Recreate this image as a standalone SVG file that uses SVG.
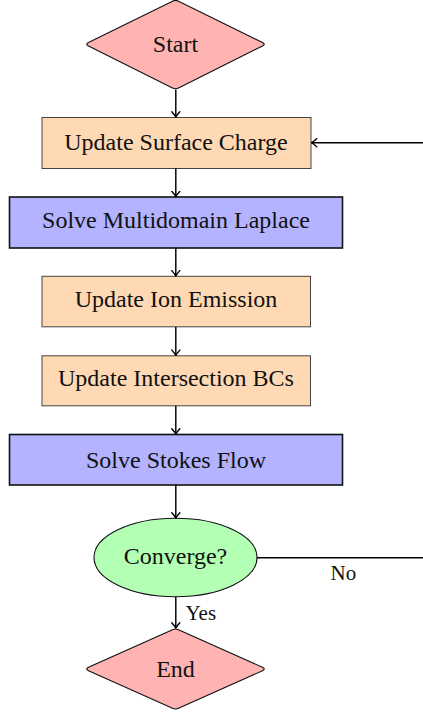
<svg xmlns="http://www.w3.org/2000/svg" width="423" height="715" viewBox="0 0 423 715">
<defs>
<style>
.lbl{font-family:"Liberation Serif","Times New Roman",serif;font-size:24px;fill:#111;text-anchor:middle}
.edge{font-family:"Liberation Serif","Times New Roman",serif;font-size:21px;fill:#111}
.orange{fill:#FFD9B3;stroke:#444;stroke-width:1}
.blue{fill:#B3B3FF;stroke:#111;stroke-width:1.6}
.red{fill:#FFB3B3;stroke:#111;stroke-width:1.1}
.green{fill:#B3FFB3;stroke:#111;stroke-width:1.1}
.conn{fill:none;stroke:#000;stroke-width:1.45}
</style>
<marker id="arr" viewBox="-6 -5 7 10" refX="0" refY="0" markerWidth="7" markerHeight="10" markerUnits="userSpaceOnUse" orient="auto">
<path d="M-5.2,-4 Q-1.5,-0.8 0,0 Q-1.5,0.8 -5.2,4" fill="none" stroke="#000" stroke-width="1.4" stroke-linecap="round"/>
</marker>
</defs>
<g id="start">
<path class="red" d="M172.5,1.2 Q175.5,-0.3 178.5,1.2 L262.5,42.5 Q266,44.2 262.5,45.9 L178.5,88 Q175.5,89.5 172.5,88 L88.5,45.9 Q85,44.2 88.5,42.5 Z"/>
<text class="lbl" x="175.5" y="52.3">Start</text>
</g>
<g id="usc">
<rect class="orange" x="42" y="117.5" width="269" height="51"/>
<text class="lbl" x="176" y="149.5">Update Surface Charge</text>
</g>
<g id="sml">
<rect class="blue" x="9.5" y="197" width="333" height="51"/>
<text class="lbl" x="176" y="228">Solve Multidomain Laplace</text>
</g>
<g id="uie">
<rect class="orange" x="42" y="276.3" width="268.5" height="50.5"/>
<text class="lbl" x="176" y="307">Update Ion Emission</text>
</g>
<g id="uib">
<rect class="orange" x="42" y="355.8" width="268.5" height="50"/>
<text class="lbl" x="176" y="386">Update Intersection BCs</text>
</g>
<g id="ssf">
<rect class="blue" x="9.5" y="434.5" width="333" height="50.5"/>
<text class="lbl" x="176" y="468.3">Solve Stokes Flow</text>
</g>
<g id="conv">
<ellipse class="green" cx="175.5" cy="557.5" rx="81.5" ry="39.2"/>
<text class="lbl" x="175.5" y="564">Converge?</text>
</g>
<g id="end">
<path class="red" d="M172.5,629.7 Q175.5,628.2 178.5,629.7 L262.5,667.3 Q266,669 262.5,670.7 L178.5,708.3 Q175.5,709.8 172.5,708.3 L88.5,670.7 Q85,669 88.5,667.3 Z"/>
<text class="lbl" x="175.5" y="677.3">End</text>
</g>
<g id="connectors">
<line class="conn" x1="175.8" y1="89.5" x2="175.8" y2="117" marker-end="url(#arr)"/>
<line class="conn" x1="175.8" y1="168.5" x2="175.8" y2="196.5" marker-end="url(#arr)"/>
<line class="conn" x1="175.8" y1="248" x2="175.8" y2="275.8" marker-end="url(#arr)"/>
<line class="conn" x1="175.8" y1="326.8" x2="175.8" y2="355.3" marker-end="url(#arr)"/>
<line class="conn" x1="175.8" y1="405.8" x2="175.8" y2="434" marker-end="url(#arr)"/>
<line class="conn" x1="175.8" y1="485" x2="175.8" y2="518" marker-end="url(#arr)"/>
<line class="conn" x1="175.8" y1="596.7" x2="175.8" y2="628" marker-end="url(#arr)"/>
<line class="conn" x1="257" y1="557.7" x2="423" y2="557.7"/>
<line class="conn" x1="423" y1="142.7" x2="311.5" y2="142.7" marker-end="url(#arr)"/>
<text class="edge" x="330.5" y="580">No</text>
<text class="edge" x="185.5" y="620">Yes</text>
</g>
</svg>
